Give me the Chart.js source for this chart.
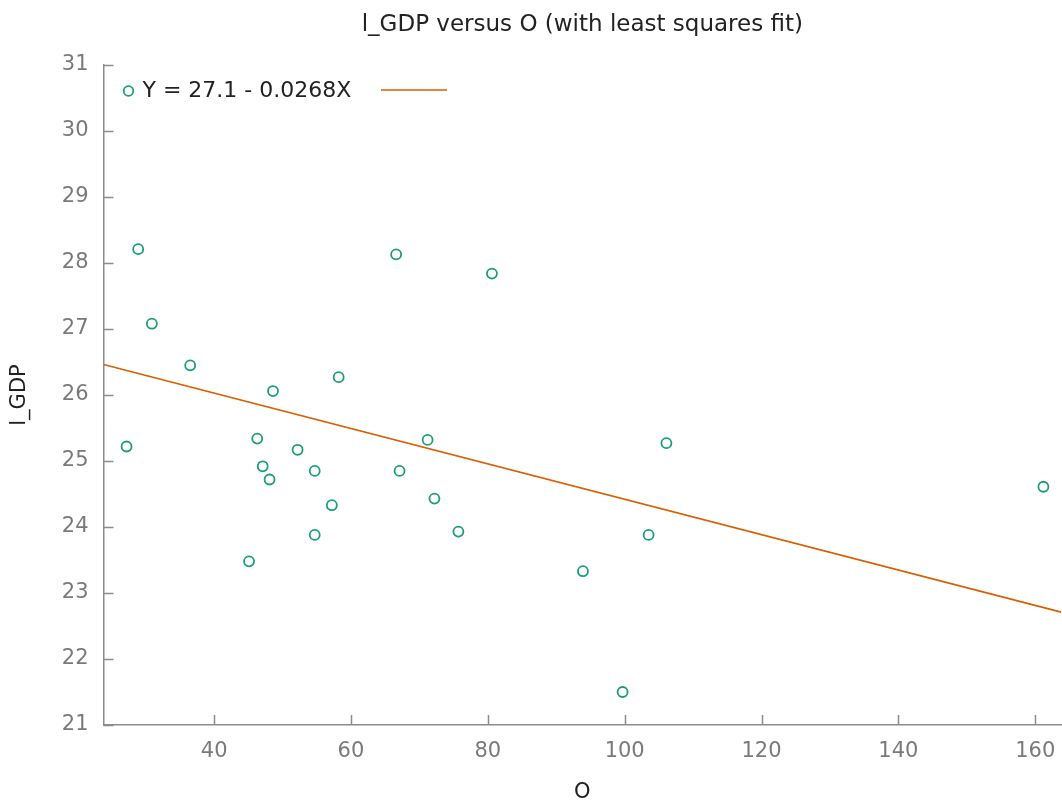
<!DOCTYPE html>
<html>
<head>
<meta charset="utf-8">
<script src="https://cdn.jsdelivr.net/npm/chart.js@4/dist/chart.umd.min.js"></script>
<style>
  html, body { margin: 0; padding: 0; background: #fff; overflow: hidden; }
  /* the plot runs right up to the window edge, a few pixels of canvas are cut off */
  #wrap { width: 1068px; height: 807px; }
</style>
</head>
<body>
<div id="wrap"><canvas id="gdpChart"></canvas></div>
<script>
// observed data: O (x) and l_GDP (y)
const oValues = [28.9, 30.9, 36.5, 27.2, 48.6, 46.3, 47.1, 48.1, 52.2, 54.7, 57.2, 54.7, 45.1,
  58.2, 66.6, 71.2, 67.1, 72.2, 80.6, 75.7, 106.1, 103.5, 93.9, 99.7, 161.2]
const gdpValues = [28.21, 27.08, 26.45, 25.22, 26.06, 25.34, 24.92, 24.72, 25.17, 24.85, 24.33, 23.88, 23.48,
  26.27, 28.13, 25.32, 24.85, 24.43, 27.84, 23.93, 25.27, 23.88, 23.33, 21.50, 24.61]

// least squares fit  Y = 27.1 - 0.0268X
const fitIntercept = 27.1
const fitSlope = -0.0268
const fitLabel = 'Y = 27.1 - 0.0268X'
const chartTitle = 'l_GDP versus O (with least squares fit)'

const xRange = [23.83, 163.8]
const yRange = [21, 31]
const xTicks = [40, 60, 80, 100, 120, 140, 160]
const yTicks = [21, 22, 23, 24, 25, 26, 27, 28, 29, 30, 31]

const green = '#1b9e77'
const orange = '#d95f02'
const axisGray = '#8c8c8c'
const labelGray = '#7a7a7a'
const fontFamily = 'Tahoma, "DejaVu Sans", Verdana, sans-serif'

const points = oValues.map((x, i) => ({ x: x, y: gdpValues[i] }))
const fitLine = xRange.map(x => ({ x: x, y: fitIntercept + fitSlope * x }))

// short ticks pointing into the plot, like gnuplot
const innerTicks = {
  id: 'innerTicks',
  afterDatasetsDraw(chart) {
    const ctx = chart.ctx
    const xs = chart.scales.x
    const ys = chart.scales.y
    const area = chart.chartArea
    ctx.save()
    ctx.strokeStyle = axisGray
    ctx.lineWidth = 1.5
    ctx.beginPath()
    xTicks.forEach(v => {
      const px = Math.round(xs.getPixelForValue(v)) + 0.5
      ctx.moveTo(px, area.bottom)
      ctx.lineTo(px, area.bottom - 10)
    })
    yTicks.forEach(v => {
      const py = Math.round(ys.getPixelForValue(v)) + 0.5
      ctx.moveTo(area.left, py)
      ctx.lineTo(area.left + 10, py)
    })
    ctx.stroke()
    ctx.restore()
  }
}

// title centred over the plot area, legend inside the plot: marker, text, line sample
const innerLegend = {
  id: 'innerLegend',
  afterDraw(chart) {
    const ctx = chart.ctx
    const area = chart.chartArea
    ctx.save()
    ctx.font = '23px ' + fontFamily
    ctx.fillStyle = '#222'
    ctx.textAlign = 'center'
    ctx.textBaseline = 'middle'
    ctx.fillText(chartTitle, (area.left + area.right) / 2, 25)

    const y = area.top + 26
    const mx = area.left + 25
    ctx.strokeStyle = green
    ctx.lineWidth = 1.8
    ctx.beginPath()
    ctx.arc(mx, y, 4.8, 0, Math.PI * 2)
    ctx.stroke()
    ctx.font = '22px ' + fontFamily
    ctx.textAlign = 'left'
    ctx.fillText(fitLabel, mx + 14, y)
    ctx.strokeStyle = orange
    ctx.lineWidth = 1.5
    ctx.beginPath()
    ctx.moveTo(381, y - 1)
    ctx.lineTo(447, y - 1)
    ctx.stroke()
    ctx.restore()
  }
}

new Chart(document.getElementById('gdpChart'), {
  type: 'scatter',
  data: {
    datasets: [
      {
        label: 'l_GDP',
        data: points,
        pointStyle: 'circle',
        pointRadius: 5,
        pointBorderWidth: 1.8,
        pointBorderColor: green,
        pointBackgroundColor: 'rgba(0,0,0,0)',
        order: 1
      },
      {
        label: fitLabel,
        type: 'line',
        data: fitLine,
        borderColor: orange,
        borderWidth: 1.6,
        pointRadius: 0,
        fill: false,
        order: 2
      }
    ]
  },
  plugins: [innerTicks, innerLegend],
  options: {
    responsive: true,
    maintainAspectRatio: false,
    animation: false,
    layout: { padding: { top: 65, left: 0, right: 0, bottom: 0 } },
    plugins: {
      legend: { display: false },
      tooltip: { enabled: false },
      title: { display: false }
    },
    scales: {
      x: {
        type: 'linear',
        min: xRange[0],
        max: xRange[1],
        afterBuildTicks: s => { s.ticks = xTicks.map(v => ({ value: v })) },
        afterFit: s => { s.height = 82 },
        grid: { display: false },
        border: { display: true, color: axisGray, width: 1.5 },
        ticks: {
          color: labelGray,
          font: { family: fontFamily, size: 21 },
          padding: 6,
          maxRotation: 0
        },
        title: {
          display: true,
          text: 'O',
          color: '#222',
          font: { family: fontFamily, size: 21 },
          padding: { top: 4, bottom: 1.4 }
        }
      },
      y: {
        type: 'linear',
        min: yRange[0],
        max: yRange[1],
        afterBuildTicks: s => { s.ticks = yTicks.map(v => ({ value: v })) },
        afterFit: s => { s.width = 103.5 },
        grid: { display: false },
        border: { display: true, color: axisGray, width: 1.5 },
        ticks: {
          color: labelGray,
          font: { family: fontFamily, size: 21 },
          padding: 7
        },
        title: {
          display: true,
          text: 'l_GDP',
          color: '#222',
          font: { family: fontFamily, size: 21 },
          padding: { top: 7.4, bottom: 0 }
        }
      }
    }
  }
})
</script>
</body>
</html>
